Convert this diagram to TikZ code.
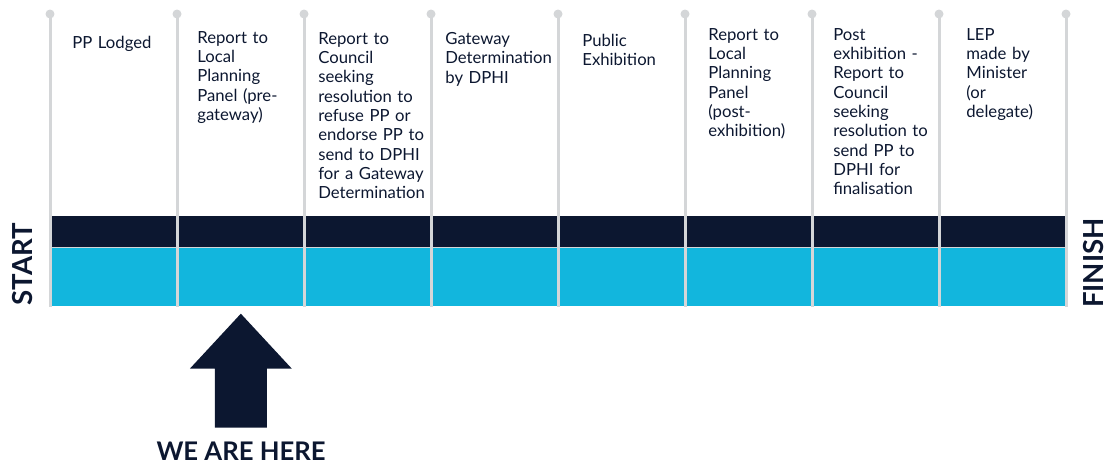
\documentclass[tikz,border=0pt]{standalone}
\usepackage{fontspec}
\setmainfont{Lato}
\usepackage{xcolor}
\usetikzlibrary{positioning,calc}

\definecolor{navy}{HTML}{0C1730}
\definecolor{sky}{HTML}{12B6DD}
\definecolor{post}{HTML}{D4D6D8}

\tikzset{
  stage/.style={anchor=north west, inner sep=0pt, text width=2.4cm, align=left,
    text=navy, font=\fontsize{9.5}{11}\selectfont},
  topcell/.style={fill=navy, inner sep=0pt, anchor=north west,
    minimum width=2.48cm, minimum height=0.62cm},
  lowcell/.style={fill=sky, inner sep=0pt, anchor=north west,
    minimum width=2.48cm, minimum height=1.18cm},
  endlabel/.style={rotate=90, inner sep=0pt, text height=11pt, text depth=0pt,
    text=navy, font=\fontsize{15.7}{18}\selectfont\bfseries}
}

\begin{document}
\begin{tikzpicture}[x=0.02cm, y=-0.02cm]
\useasboundingbox (0,0) rectangle (1109,463);

% the two bars, one cell per stage
\foreach \i in {0,...,7} {
  \node[topcell] (top\i) at ({51.5+127*\i},216) {};
  \node[lowcell] (cell\i) at ({51.5+127*\i},247) {};
}
\draw[post, line width=0.02cm] (50,247) -- (1066,247);

% posts with their dots
\foreach \i in {0,...,8} {
  \draw[post, line width=0.06cm] ({50+127*\i},14) -- ({50+127*\i},307);
  \fill[post] ({50+127*\i},14) circle (0.09cm);
}

\node[stage] (s1) at (72,36) {PP Lodged};
\node[stage] (s2) at (197,31) {Report to\\Local\\Planning\\Panel (pre-\\gateway)};
\node[stage] (s3) at (318,32) {Report to\\Council\\seeking\\resolution to\\refuse PP or\\endorse PP to\\send to DPHI\\for a Gateway\\Determination};
\node[stage] (s4) at (445,32) {Gateway\\Determination\\by DPHI};
\node[stage] (s5) at (582,34) {Public\\Exhibition};
\node[stage] (s6) at (708,28) {Report to\\Local\\Planning\\Panel\\(post-\\exhibition)};
\node[stage] (s7) at (833,28) {Post\\exhibition -\\Report to\\Council\\seeking\\resolution to\\send PP to\\DPHI for\\finalisation};
\node[stage] (s8) at (966,28) {LEP\\made by\\Minister\\(or\\delegate)};

\node[endlabel] (start) at (23,264) {START};
\node[endlabel] (finish) at (1094,263) {FINISH};

% marker under the current stage
\fill[navy] ($(cell1.south)+(0,7)$) -- ++(51,55) -- ++(-25,0) -- ++(0,59)
  -- ++(-52,0) -- ++(0,-59) -- ++(-25,0) -- cycle;
\node[anchor=base, text=navy, font=\fontsize{14.6}{17}\selectfont\bfseries]
  (here) at (241,460) {WE ARE HERE};
\end{tikzpicture}
\end{document}
